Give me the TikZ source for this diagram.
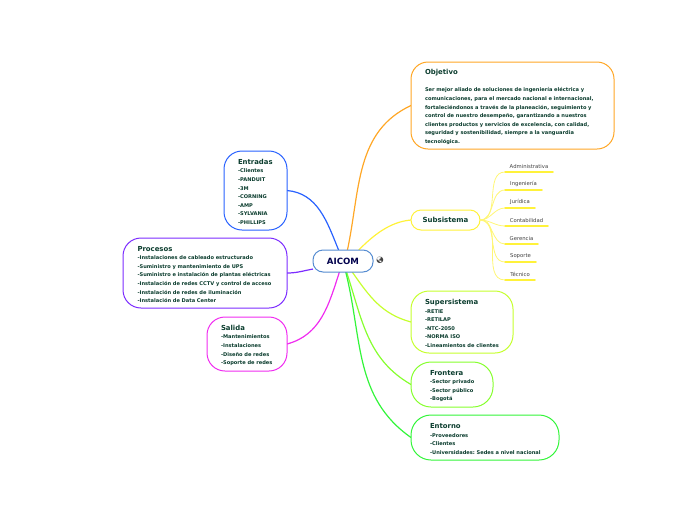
\documentclass[tikz,border=0pt]{standalone}
\usepackage{fontspec}
\setmainfont{DejaVu Sans}
\newfontfamily\emojifont{Noto Emoji}
\usepackage{xcolor}
\usetikzlibrary{backgrounds}
\definecolor{inktext}{HTML}{0B3D2E}
\definecolor{cOrange}{HTML}{FFA726}
\definecolor{cBlue}{HTML}{2962FF}
\definecolor{cPurple}{HTML}{7C2CFF}
\definecolor{cMagenta}{HTML}{F02CF0}
\definecolor{cYellow}{HTML}{FFF23A}
\definecolor{cLime}{HTML}{C6FF2E}
\definecolor{cFront}{HTML}{86FF2E}
\definecolor{cEnt}{HTML}{33F53A}
\newcommand{\ttl}[1]{{\fontsize{6.9}{9}\selectfont\bfseries\rule{0pt}{8pt}#1}}
\tikzset{
  every picture/.style={line join=round, line cap=round},
  topicbox/.style={draw, fill=white, line width=1pt, outer sep=0pt, anchor=north west, align=left, inner ysep=0pt, text=inktext, font=\fontsize{5.1}{8.6}\selectfont\bfseries\frenchspacing},
  link/.style={line width=1.2pt},
  subtopic/.style={anchor=south west, inner xsep=4pt, inner ysep=3pt, text=black!75, font=\fontsize{5.3}{7}\selectfont},
}
\begin{document}
\begin{tikzpicture}[x=1pt,y=-1pt]
\useasboundingbox (0,0) rectangle (696,520);
\node[topicbox,draw=cOrange,rounded corners=17pt,text width=175pt,inner xsep=14pt,minimum height=87pt](objetivo)at(411,62){\ttl{Objetivo}\\[9pt]Ser mejor aliado de soluciones de ingeniería eléctrica y\\comunicaciones, para el mercado nacional e internacional,\\fortaleciéndonos a través de la planeación, seguimiento y\\control de nuestro desempeño, garantizando a nuestros\\clientes productos y servicios de excelencia, con calidad,\\seguridad y sostenibilidad, siempre a la vanguardia\\tecnológica.};
\node[topicbox,draw=cYellow,rounded corners=10pt,minimum width=69pt,minimum height=20pt,align=center,inner xsep=0pt,font=\fontsize{7}{9}\selectfont\bfseries](subsistema)at(411,210){Subsistema};
\node[topicbox,draw=cLime,rounded corners=18pt,text width=74pt,inner xsep=14pt,minimum height=62pt](supersistema)at(411,291){\ttl{Supersistema}\\-RETIE\\-RETILAP\\-NTC-2050\\-NORMA ISO\\\mbox{-Lineamientos de clientes}};
\node[topicbox,draw=cFront,rounded corners=20pt,text width=44pt,inner xsep=19pt,minimum height=45pt](frontera)at(411,362){\ttl{Frontera}\\\mbox{-Sector privado}\\\mbox{-Sector público}\\-Bogotá};
\node[topicbox,draw=cEnt,rounded corners=20pt,text width=110pt,inner xsep=19pt,minimum height=45pt](entorno)at(411,415){\ttl{Entorno}\\-Proveedores\\-Clientes\\\mbox{-Universidades: Sedes a nivel nacional}};
\node[topicbox,draw=cBlue,rounded corners=18pt,text width=35pt,inner xsep=14pt,minimum height=79pt](entradas)at(224,151){\ttl{Entradas}\\-Clientes\\-PANDUIT\\-3M\\-CORNING\\-AMP\\-SYLVANIA\\-PHILLIPS};
\node[topicbox,draw=cPurple,rounded corners=18pt,text width=135pt,inner xsep=14.5pt,minimum height=70pt](procesos)at(123,238){\ttl{Procesos}\\-Instalaciones de cableado estructurado\\-Suministro y mantenimiento de UPS\\-Suministro e instalación de plantas eléctricas\\-Instalación de redes CCTV y control de acceso\\-Instalación de redes de iluminación\\-Instalación de Data Center};
\node[topicbox,draw=cMagenta,rounded corners=18pt,text width=52pt,inner xsep=14pt,minimum height=54pt](salida)at(207,317){\ttl{Salida}\\-Mantenimientos\\-Instalaciones\\-Diseño de redes\\-Soporte de redes};
% central topic
\node[draw=cyan!50!blue!70,fill=white,line width=1pt,outer sep=0pt,rounded corners=10pt,minimum width=60pt,minimum height=22pt,inner sep=0pt,text=blue!30!black,font=\fontsize{8.6}{9}\selectfont\bfseries](aicom)at(343,261){AICOM};
\node[inner sep=0pt,text=black!75,font=\fontsize{6.5}{8}\selectfont\emojifont](globe)at(380,260.5){\char"1F30F};
% connectors
\begin{scope}[on background layer]
\draw[link,cOrange](aicom.68)to[out=78,in=205](objetivo.west);
\draw[link,cYellow](aicom.35)to[out=45,in=185,looseness=0.9](subsistema.west);
\draw[link,cLime](aicom.-50)to[out=-55,in=165](supersistema.west);
\draw[link,cFront](aicom.-72)to[out=-72,in=150](frontera.west);
\draw[link,cEnt](aicom.-76)to[out=-76,in=145](entorno.west);
\draw[link,cBlue](aicom.112)to[out=112,in=-5](entradas.east);
\draw[link,cPurple](aicom.-165)to[out=190,in=0](procesos.east);
\draw[link,cMagenta](aicom.-108)to[out=-108,in=15](salida.east);
\end{scope}
% subtopics
\foreach \name/\txt/\wid/\ypos in {admin/Administrativa/48/172,inge/Ingeniería/37/190,juri/Jurídica/30/208,conta/Contabilidad/43/226,gere/Gerencia/33/244,sop/Soporte/31/262,tec/Técnico/30/280}{
  \node[subtopic,minimum width=\wid pt,outer sep=0pt](\name)at(505,\ypos){\txt};
  \draw[cYellow,line width=1.5pt](\name.south west)--(\name.south east);
  \draw[cYellow!70,line width=0.8pt](subsistema.east)to[out=0,in=180](\name.south west);
}
\end{tikzpicture}
\end{document}
